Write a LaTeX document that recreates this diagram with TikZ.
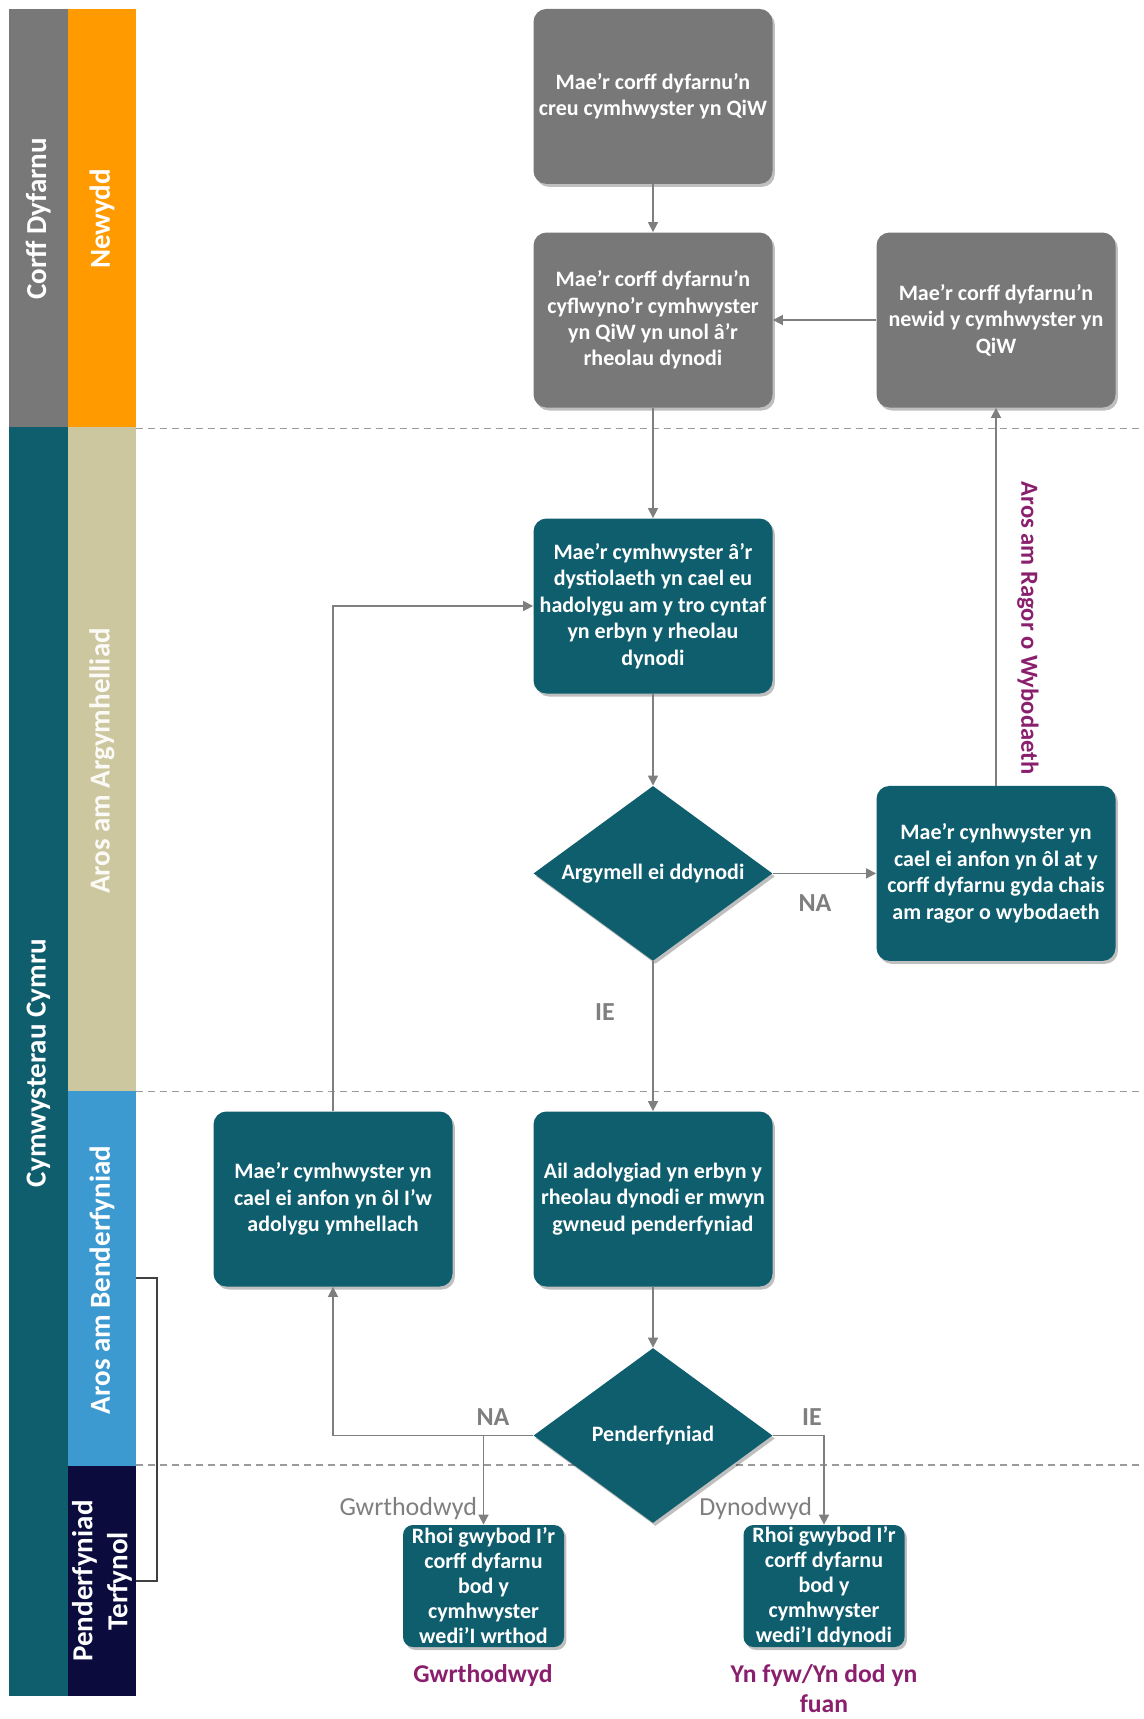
\documentclass[tikz,border=0pt]{standalone}
\usepackage{fontspec}
\setmainfont{Carlito}
\usetikzlibrary{arrows.meta,shapes.geometric,shadows}
\definecolor{boxgray}{HTML}{787878}
\definecolor{tealc}{HTML}{0F5E6E}
\definecolor{laneorange}{HTML}{FF9A00}
\definecolor{lanetan}{HTML}{CCC79E}
\definecolor{laneblue}{HTML}{3D9AD1}
\definecolor{lanenavy}{HTML}{0B0C3D}
\definecolor{linegray}{HTML}{7F7F7F}
\definecolor{dashgray}{HTML}{9A9A9A}
\definecolor{purplec}{HTML}{8A1F6E}
\begin{document}
\begin{tikzpicture}[x=0.5pt,y=-0.5pt,
  shad/.style={drop shadow={shadow xshift=1.2pt,shadow yshift=-1.5pt,opacity=0.25,fill=black}},
  box/.style={rectangle,rounded corners=6.5pt,minimum width=119.5pt,minimum height=87.5pt,inner sep=0pt,align=center,text=white,font=\fontsize{11}{13.2}\selectfont\bfseries,shad},
  graybox/.style={box,fill=boxgray},
  tealbox/.style={box,fill=tealc},
  smallbox/.style={box,fill=tealc,minimum width=80.5pt,minimum height=61pt,rounded corners=5pt,font=\fontsize{11}{12.5}\selectfont\bfseries},
  dia/.style={diamond,fill=tealc,minimum width=119.5pt,minimum height=87.5pt,inner sep=0pt,shad},
  dtext/.style={text=white,font=\fontsize{11}{13.2}\selectfont\bfseries},
  conn/.style={draw=linegray,line width=0.8pt,-{Triangle[width=5pt,length=5pt]}},
  dashline/.style={draw=dashgray,line width=0.7pt,dash pattern=on 3.5pt off 2.5pt},
  lanelbl/.style={rotate=90,text=white,font=\fontsize{14.5}{17.5}\selectfont\bfseries,align=center},
  yesno/.style={text=linegray,font=\fontsize{13}{15}\selectfont\bfseries},
  outlbl/.style={text=linegray,font=\fontsize{13}{15}\selectfont},
  purp/.style={text=purplec,font=\fontsize{12.8}{15}\selectfont\bfseries,align=center}]
\useasboundingbox (0,0) rectangle (1144,1719);
\fill[white] (0,0) rectangle (1144,1719);
% lanes
\fill[boxgray] (8.8,8.8) rectangle (67.9,427.4);
\fill[laneorange] (67.9,8.8) rectangle (135.9,427.4);
\fill[tealc] (8.8,427.4) rectangle (67.9,1696.3);
\fill[lanetan] (67.9,427.4) rectangle (135.9,1091.4);
\fill[laneblue] (67.9,1091.4) rectangle (135.9,1466.2);
\fill[lanenavy] (67.9,1466.2) rectangle (135.9,1696.3);
\node[lanelbl] (l1) at (38.3,219) {Corff Dyfarnu};
\node[lanelbl] (l2) at (102,219) {Newydd};
\node[lanelbl] (l3) at (38.3,1063) {Cymwysterau Cymru};
\node[lanelbl,text=white!92!lanetan] (l4) at (102,761) {Aros am Argymhelliad};
\node[lanelbl] (l5) at (102,1280) {Aros am Benderfyniad};
\node[lanelbl] (l6) at (102,1581) {Penderfyniad\\Terfynol};
% dashed separators
\draw[dashline] (135.9,428.5) -- (1144,428.5);
\draw[dashline] (135.9,1091.4) -- (1144,1091.4);
\draw[dashline] (135.9,1465) -- (1144,1465);
% bracket
\draw[line width=0.8pt,draw=black!75] (136,1278) -- (157,1278) -- (157,1581) -- (136,1581);
% nodes
\node[graybox] (A) at (653,96.4) {Mae’r corff dyfarnu’n\\creu cymhwyster yn QiW};
\node[graybox] (B) at (653,320) {Mae’r corff dyfarnu’n\\cyflwyno’r cymhwyster\\yn QiW yn unol â’r\\rheolau dynodi};
\node[graybox] (C) at (996,320) {Mae’r corff dyfarnu’n\\newid y cymhwyster yn\\QiW};
\node[tealbox] (D) at (653,606) {Mae’r cymhwyster â'r\\dystiolaeth yn cael eu\\hadolygu am y tro cyntaf\\yn erbyn y rheolau\\dynodi};
\node[dia,label={[dtext]center:Argymell ei ddynodi}] (E) at (653,873.4) {};
\node[tealbox] (F) at (996,873.4) {Mae’r cynhwyster yn\\cael ei anfon yn ôl at y\\corff dyfarnu gyda chais\\am ragor o wybodaeth};
\node[tealbox] (G) at (333,1199) {Mae’r cymhwyster yn\\cael ei anfon yn ôl I’w\\adolygu ymhellach};
\node[tealbox] (H) at (653,1199) {Ail adolygiad yn erbyn y\\rheolau dynodi er mwyn\\gwneud penderfyniad};
\node[dia,label={[dtext]center:Penderfyniad}] (I) at (653,1435.5) {};
\node[smallbox] (J) at (483.5,1586) {Rhoi gwybod I’r\\corff dyfarnu\\bod y\\cymhwyster\\wedi’I wrthod};
\node[smallbox] (K) at (824,1586) {Rhoi gwybod I’r\\corff dyfarnu\\bod y\\cymhwyster\\wedi’I ddynodi};
% connectors
\draw[conn] (A.south) -- (B.north);
\draw[conn] (C.west) -- (B.east);
\draw[conn] (B.south) -- (D.north);
\draw[conn] (D.south) -- (E.north);
\draw[conn] (E.east) -- (F.west);
\draw[conn] (F.north) -- (C.south);
\draw[conn] (E.south) -- (H.north);
\draw[conn] (G.north) |- (D.west);
\draw[conn] (H.south) -- (I.north);
\draw[conn] (I.west) -| (G.south);
\coordinate (nb) at (I.west -| J.north);
\draw[conn] (nb) -- (J.north);
\draw[conn] (I.east) -| (K.north);
% labels
\node[yesno] (naE) at (815,903) {NA};
\node[yesno] (ieE) at (605,1012.5) {IE};
\node[yesno] (naI) at (493,1417) {NA};
\node[yesno] (ieI) at (812,1417) {IE};
\node[outlbl,anchor=east] (gw) at (484,1509) {Gwrthodwyd};
\node[outlbl,anchor=east] (dy) at (819,1509) {Dynodwyd};
\node[purp,rotate=-90,font=\fontsize{12.3}{15}\selectfont\bfseries] (ragor) at (1028,628) {Aros am Ragor o Wybodaeth};
\node[purp] (p1) at (483,1675.5) {Gwrthodwyd};
\node[purp] (p2) at (824,1689) {Yn fyw/Yn dod yn\\fuan};
\end{tikzpicture}
\end{document}
